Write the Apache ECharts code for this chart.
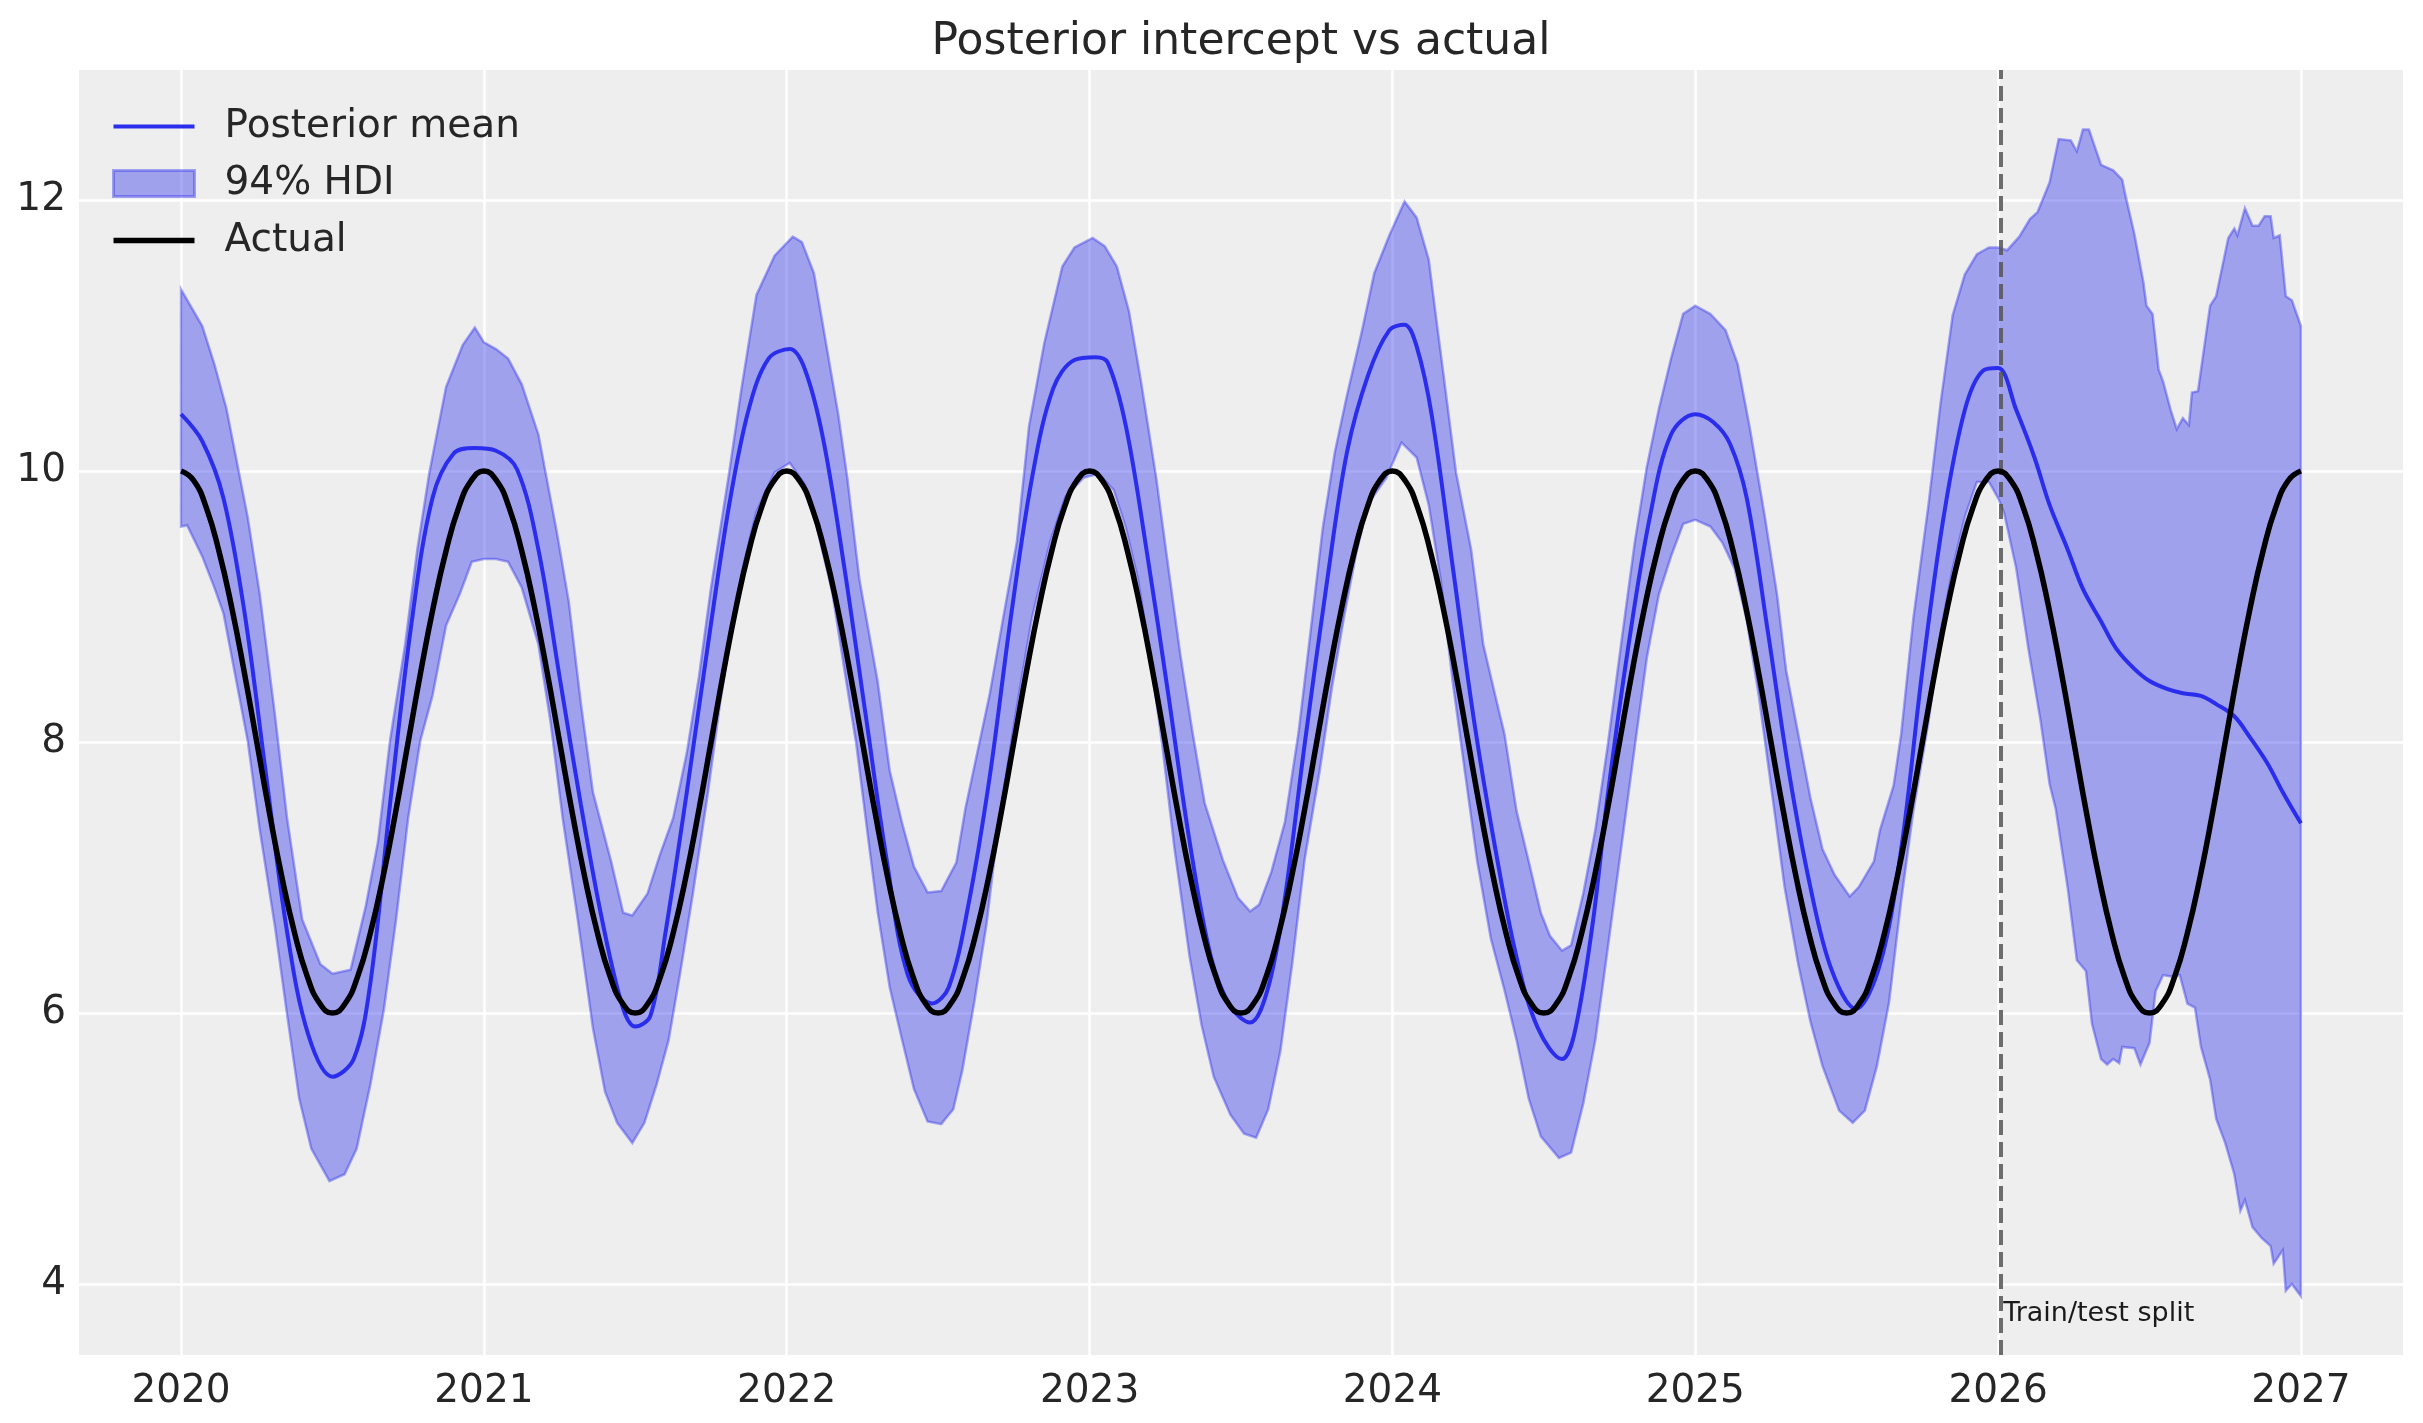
<!DOCTYPE html>
<html><head><meta charset="utf-8">
<script src="https://cdn.jsdelivr.net/npm/echarts@6/dist/echarts.min.js"></script>
<style>html,body{margin:0;padding:0;background:#fff}#c{width:2423px;height:1423px}</style>
</head><body><div id="c"></div>
<script>
// ---- data (decimal year, value) ----
const years = [2020, 2021, 2022, 2023, 2024, 2025, 2026, 2027];
const yTicks = [4, 6, 8, 10, 12];
const splitYear = 2026.01;
const splitLabelY = 3.78;

const upperBand = [
[2020.00,11.34],[2020.07,11.07],[2020.11,10.79],[2020.15,10.46],[2020.22,9.66],[2020.26,9.09],[2020.31,8.20],[2020.35,7.44],
[2020.40,6.69],[2020.46,6.36],[2020.50,6.29],[2020.56,6.32],[2020.61,6.79],[2020.65,7.26],[2020.69,8.01],[2020.74,8.72],
[2020.78,9.42],[2020.82,9.99],[2020.875,10.62],[2020.93,10.93],[2020.97,11.06],[2021.00,10.95],[2021.04,10.90],[2021.08,10.83],
[2021.125,10.64],[2021.18,10.27],[2021.24,9.56],[2021.28,9.04],[2021.32,8.29],[2021.36,7.63],[2021.42,7.12],[2021.46,6.74],
[2021.49,6.72],[2021.54,6.88],[2021.58,7.16],[2021.625,7.44],[2021.67,7.92],[2021.71,8.48],[2021.75,9.14],[2021.81,9.99],
[2021.85,10.60],[2021.90,11.30],[2021.96,11.59],[2022.02,11.73],[2022.05,11.69],[2022.09,11.46],[2022.13,10.94],[2022.17,10.42],
[2022.20,9.95],[2022.24,9.20],[2022.30,8.45],[2022.34,7.79],[2022.38,7.41],[2022.42,7.08],[2022.465,6.89],[2022.51,6.90],
[2022.56,7.11],[2022.59,7.51],[2022.63,7.93],[2022.67,8.35],[2022.715,8.92],[2022.76,9.48],[2022.80,10.33],[2022.85,10.94],
[2022.91,11.51],[2022.95,11.65],[2023.01,11.72],[2023.05,11.66],[2023.09,11.51],[2023.13,11.18],[2023.17,10.66],[2023.22,9.95],
[2023.26,9.29],[2023.30,8.64],[2023.34,8.07],[2023.38,7.55],[2023.44,7.13],[2023.49,6.85],[2023.53,6.75],[2023.56,6.80],
[2023.60,7.04],[2023.645,7.41],[2023.69,8.07],[2023.73,8.82],[2023.77,9.58],[2023.81,10.14],[2023.85,10.56],[2023.90,11.04],
[2023.94,11.46],[2023.99,11.74],[2024.04,11.99],[2024.08,11.87],[2024.12,11.56],[2024.145,11.12],[2024.17,10.69],[2024.21,9.99],
[2024.26,9.42],[2024.30,8.72],[2024.34,8.34],[2024.37,8.06],[2024.41,7.49],[2024.45,7.12],[2024.49,6.74],[2024.52,6.57],
[2024.56,6.46],[2024.59,6.50],[2024.63,6.88],[2024.67,7.35],[2024.71,7.96],[2024.755,8.72],[2024.80,9.47],[2024.84,10.03],
[2024.88,10.46],[2024.92,10.83],[2024.96,11.16],[2025.00,11.22],[2025.05,11.16],[2025.10,11.04],[2025.14,10.79],[2025.18,10.32],
[2025.23,9.66],[2025.27,9.09],[2025.30,8.53],[2025.34,8.06],[2025.38,7.59],[2025.42,7.21],[2025.46,7.02],[2025.51,6.86],
[2025.54,6.93],[2025.59,7.12],[2025.61,7.35],[2025.655,7.68],[2025.68,8.06],[2025.72,8.91],[2025.77,9.75],[2025.81,10.50],
[2025.85,11.15],[2025.89,11.45],[2025.93,11.60],[2025.97,11.65],[2026.00,11.65],[2026.03,11.63],[2026.07,11.73],[2026.105,11.86],
[2026.13,11.91],[2026.17,12.13],[2026.20,12.45],[2026.24,12.44],[2026.26,12.36],[2026.28,12.52],[2026.30,12.52],[2026.34,12.26],
[2026.38,12.22],[2026.41,12.15],[2026.42,12.04],[2026.45,11.75],[2026.48,11.39],[2026.49,11.22],[2026.51,11.16],[2026.53,10.75],
[2026.545,10.66],[2026.57,10.45],[2026.59,10.31],[2026.61,10.39],[2026.63,10.34],[2026.64,10.58],[2026.66,10.59],[2026.70,11.22],
[2026.72,11.29],[2026.76,11.72],[2026.78,11.79],[2026.79,11.74],[2026.815,11.94],[2026.84,11.81],[2026.86,11.81],[2026.88,11.88],
[2026.90,11.88],[2026.91,11.72],[2026.93,11.74],[2026.95,11.29],[2026.97,11.26],[2027.00,11.07]
];

const lowerBand = [
[2020.00,9.59],[2020.02,9.60],[2020.07,9.37],[2020.11,9.14],[2020.14,8.95],[2020.18,8.48],[2020.22,8.01],[2020.26,7.35],
[2020.31,6.64],[2020.35,5.99],[2020.39,5.37],[2020.43,5.00],[2020.49,4.76],[2020.54,4.81],[2020.58,5.00],[2020.625,5.47],
[2020.67,6.03],[2020.71,6.69],[2020.75,7.44],[2020.79,8.01],[2020.83,8.34],[2020.875,8.86],[2020.92,9.09],[2020.96,9.33],
[2021.00,9.35],[2021.04,9.35],[2021.08,9.33],[2021.125,9.14],[2021.18,8.72],[2021.22,8.15],[2021.26,7.44],[2021.31,6.69],
[2021.36,5.89],[2021.40,5.42],[2021.44,5.19],[2021.49,5.04],[2021.53,5.19],[2021.57,5.47],[2021.61,5.80],[2021.65,6.32],
[2021.69,6.88],[2021.74,7.63],[2021.78,8.29],[2021.82,8.86],[2021.86,9.33],[2021.90,9.70],[2021.96,9.99],[2022.01,10.06],
[2022.06,9.90],[2022.10,9.58],[2022.15,9.11],[2022.19,8.54],[2022.23,7.98],[2022.27,7.27],[2022.30,6.75],[2022.34,6.19],
[2022.38,5.81],[2022.42,5.44],[2022.465,5.20],[2022.51,5.18],[2022.55,5.29],[2022.58,5.58],[2022.62,6.09],[2022.66,6.66],
[2022.70,7.41],[2022.76,8.26],[2022.81,8.92],[2022.87,9.48],[2022.92,9.81],[2022.98,9.95],[2023.03,9.98],[2023.08,9.86],
[2023.12,9.58],[2023.16,9.20],[2023.20,8.64],[2023.24,7.98],[2023.28,7.22],[2023.33,6.42],[2023.37,5.91],[2023.41,5.53],
[2023.465,5.25],[2023.51,5.11],[2023.55,5.08],[2023.59,5.29],[2023.63,5.72],[2023.67,6.38],[2023.71,7.13],[2023.76,7.79],
[2023.80,8.40],[2023.84,8.92],[2023.88,9.39],[2023.92,9.76],[2023.98,9.95],[2024.03,10.21],[2024.08,10.10],[2024.12,9.75],
[2024.16,9.19],[2024.20,8.43],[2024.24,7.77],[2024.28,7.12],[2024.325,6.55],[2024.37,6.17],[2024.41,5.80],[2024.45,5.37],
[2024.49,5.09],[2024.55,4.93],[2024.59,4.97],[2024.63,5.33],[2024.67,5.80],[2024.71,6.46],[2024.755,7.21],[2024.80,7.96],
[2024.84,8.62],[2024.88,9.09],[2024.92,9.37],[2024.96,9.61],[2025.00,9.64],[2025.05,9.59],[2025.09,9.47],[2025.13,9.28],
[2025.17,8.90],[2025.21,8.34],[2025.25,7.68],[2025.295,6.93],[2025.34,6.36],[2025.38,5.94],[2025.42,5.61],[2025.475,5.28],
[2025.52,5.19],[2025.56,5.28],[2025.60,5.61],[2025.64,6.08],[2025.68,6.83],[2025.72,7.49],[2025.77,8.15],[2025.81,8.81],
[2025.85,9.28],[2025.89,9.66],[2025.93,9.92],[2025.97,9.92],[2026.00,9.80],[2026.02,9.69],[2026.06,9.28],[2026.10,8.69],
[2026.14,8.16],[2026.17,7.69],[2026.19,7.51],[2026.23,6.92],[2026.26,6.39],[2026.29,6.31],[2026.31,5.92],[2026.34,5.66],
[2026.36,5.62],[2026.38,5.66],[2026.40,5.63],[2026.41,5.75],[2026.45,5.74],[2026.47,5.62],[2026.50,5.78],[2026.52,6.16],
[2026.545,6.28],[2026.57,6.27],[2026.60,6.28],[2026.625,6.07],[2026.65,6.04],[2026.67,5.75],[2026.70,5.51],[2026.72,5.22],
[2026.75,5.04],[2026.78,4.81],[2026.80,4.54],[2026.815,4.62],[2026.84,4.42],[2026.87,4.34],[2026.90,4.28],[2026.91,4.15],
[2026.94,4.25],[2026.95,3.95],[2026.97,4.00],[2027.00,3.91]
];

const posteriorMean = [
[2020.00,10.42],[2020.07,10.22],[2020.14,9.80],[2020.21,8.95],[2020.28,7.77],[2020.35,6.60],[2020.42,5.84],[2020.50,5.53],
[2020.57,5.66],[2020.625,6.22],[2020.69,7.54],[2020.76,8.86],[2020.83,9.80],[2020.90,10.13],[2020.97,10.17],[2021.04,10.15],
[2021.11,10.01],[2021.18,9.42],[2021.25,8.48],[2021.32,7.54],[2021.39,6.69],[2021.46,6.03],[2021.50,5.90],[2021.55,5.98],
[2021.60,6.60],[2021.67,7.63],[2021.74,8.72],[2021.81,9.75],[2021.875,10.46],[2021.94,10.83],[2022.01,10.90],[2022.06,10.75],
[2022.12,10.24],[2022.19,9.29],[2022.26,8.21],[2022.33,7.13],[2022.40,6.28],[2022.48,6.07],[2022.535,6.19],[2022.60,6.80],
[2022.67,7.74],[2022.74,8.92],[2022.81,9.95],[2022.88,10.61],[2022.95,10.82],[2023.02,10.84],[2023.06,10.80],[2023.12,10.33],
[2023.19,9.39],[2023.26,8.35],[2023.33,7.27],[2023.40,6.42],[2023.465,6.05],[2023.53,5.93],[2023.59,6.19],[2023.645,6.85],
[2023.71,7.98],[2023.785,9.20],[2023.85,10.14],[2023.92,10.71],[2023.99,11.04],[2024.04,11.08],[2024.08,10.92],[2024.13,10.41],
[2024.20,9.28],[2024.27,8.15],[2024.34,7.21],[2024.41,6.41],[2024.48,5.89],[2024.56,5.66],[2024.60,5.84],[2024.66,6.64],
[2024.71,7.59],[2024.78,8.72],[2024.85,9.66],[2024.92,10.27],[2025.00,10.42],[2025.06,10.36],[2025.115,10.20],[2025.17,9.80],
[2025.24,8.81],[2025.31,7.77],[2025.38,6.93],[2025.45,6.32],[2025.53,6.03],[2025.61,6.36],[2025.68,7.21],[2025.75,8.53],
[2025.82,9.66],[2025.89,10.45],[2025.95,10.74],[2026.00,10.76],[2026.06,10.45],[2026.12,10.10],[2026.17,9.75],[2026.23,9.42],
[2026.28,9.13],[2026.34,8.89],[2026.39,8.69],[2026.45,8.54],[2026.50,8.45],[2026.56,8.39],[2026.61,8.36],[2026.67,8.34],
[2026.72,8.28],[2026.78,8.19],[2026.83,8.04],[2026.89,7.84],[2026.94,7.63],[2027.00,7.40]
];

// actual values, twice a month from Jan 2020 to Jan 2027
const actualValues = [
10,9.93,9.73,9.41,9.0,8.52,8.0,7.48,7.0,6.59,6.27,6.07,6.0,6.07,6.27,6.59,7.0,7.48,8.0,8.52,9.0,9.41,9.73,9.93,
10,9.93,9.73,9.41,9.0,8.52,8.0,7.48,7.0,6.59,6.27,6.07,6.0,6.07,6.27,6.59,7.0,7.48,8.0,8.52,9.0,9.41,9.73,9.93,
10,9.93,9.73,9.41,9.0,8.52,8.0,7.48,7.0,6.59,6.27,6.07,6.0,6.07,6.27,6.59,7.0,7.48,8.0,8.52,9.0,9.41,9.73,9.93,
10,9.93,9.73,9.41,9.0,8.52,8.0,7.48,7.0,6.59,6.27,6.07,6.0,6.07,6.27,6.59,7.0,7.48,8.0,8.52,9.0,9.41,9.73,9.93,
10,9.93,9.73,9.41,9.0,8.52,8.0,7.48,7.0,6.59,6.27,6.07,6.0,6.07,6.27,6.59,7.0,7.48,8.0,8.52,9.0,9.41,9.73,9.93,
10,9.93,9.73,9.41,9.0,8.52,8.0,7.48,7.0,6.59,6.27,6.07,6.0,6.07,6.27,6.59,7.0,7.48,8.0,8.52,9.0,9.41,9.73,9.93,
10,9.93,9.73,9.41,9.0,8.52,8.0,7.48,7.0,6.59,6.27,6.07,6.0,6.07,6.27,6.59,7.0,7.48,8.0,8.52,9.0,9.41,9.73,9.93,
10
];
const actualData = actualValues.map((v, i) => [years[0] + i / 24, v]);

// ---- styles ----
const FONT = 'DejaVu Sans';
const TXT = '#262626';
const BLUE = '#2a2eec';
const BAND = 'rgba(42,46,236,0.4)';

const chart = echarts.init(document.getElementById('c'), null, {renderer: 'canvas'});
chart.setOption({
  animation: false,
  backgroundColor: '#ffffff',
  title: {
    text: 'Posterior intercept vs actual',
    left: 1241, top: 21, padding: 0, textAlign: 'center',
    textStyle: {fontFamily: FONT, fontSize: 44, fontWeight: 'normal', color: TXT}
  },
  grid: {left: 79, right: 20, top: 70, bottom: 68, show: true, backgroundColor: '#eeeeee',
         borderWidth: 0, containLabel: false, outerBoundsMode: 'none'},
  legend: {
    orient: 'vertical', left: 112, top: 107, padding: 0, itemGap: 18,
    itemWidth: 81, itemHeight: 26, symbolKeepAspect: true,
    textStyle: {fontFamily: FONT, fontSize: 39, color: TXT, padding: [0, 0, 0, 25]},
    data: [
      {name: 'Posterior mean', icon: 'path://M0,0H81V4H0Z', itemStyle: {color: BLUE}},
      {name: '94% HDI', icon: 'rect', itemStyle: {color: BAND, borderColor: BAND, borderWidth: 3}},
      {name: 'Actual', icon: 'path://M0,0H81V5.5H0Z', itemStyle: {color: '#000000'}}
    ]
  },
  xAxis: {
    type: 'value', min: 2019.663, max: 2027.337,
    axisLine: {show: false},
    axisTick: {show: false, customValues: years},
    axisLabel: {customValues: years, formatter: v => String(Math.round(v)),
                fontFamily: FONT, fontSize: 39, color: TXT, margin: 17},
    splitLine: {show: true, lineStyle: {color: '#ffffff', width: 2.5}}
  },
  yAxis: {
    type: 'value', min: 3.476, max: 12.96,
    axisLine: {show: false},
    axisTick: {show: false, customValues: yTicks},
    axisLabel: {customValues: yTicks, formatter: v => String(Math.round(v)),
                fontFamily: FONT, fontSize: 39, color: TXT, margin: 13},
    splitLine: {show: true, lineStyle: {color: '#ffffff', width: 2.5}}
  },
  series: [
    {
      name: '94% HDI', type: 'custom', z: 2, silent: true,
      data: upperBand,
      encode: {x: 0, y: 1},
      itemStyle: {color: BAND},
      renderItem: function (params, api) {
        if (params.dataIndex !== 0) return null;
        const pts = upperBand.map(p => api.coord(p))
          .concat(lowerBand.slice().reverse().map(p => api.coord(p)));
        return {type: 'polygon', shape: {points: pts},
                style: {fill: BAND, stroke: BAND, lineWidth: 2.5}};
      }
    },
    {
      name: 'split', type: 'scatter', z: 3, silent: true,
      data: [[splitYear, splitLabelY]], symbolSize: 0,
      itemStyle: {color: '#1a1a1a', opacity: 1},
      label: {show: true, formatter: 'Train/test split', position: 'right', distance: 2,
              fontFamily: FONT, fontSize: 27, color: '#1a1a1a', opacity: 1},
      markLine: {
        silent: true, symbol: ['none', 'none'], label: {show: false},
        lineStyle: {type: [15, 7], color: '#555555', width: 4, opacity: 0.85},
        data: [{xAxis: splitYear}]
      }
    },
    {
      name: 'Posterior mean', type: 'line', z: 4, data: posteriorMean,
      symbol: 'none', showSymbol: false, smooth: 0.35,
      lineStyle: {color: BLUE, width: 4}, itemStyle: {color: BLUE}
    },
    {
      name: 'Actual', type: 'line', z: 5, data: actualData,
      symbol: 'none', showSymbol: false, smooth: 0.5,
      lineStyle: {color: '#000000', width: 5.5}, itemStyle: {color: '#000000'}
    }
  ]
});
</script>
</body></html>
